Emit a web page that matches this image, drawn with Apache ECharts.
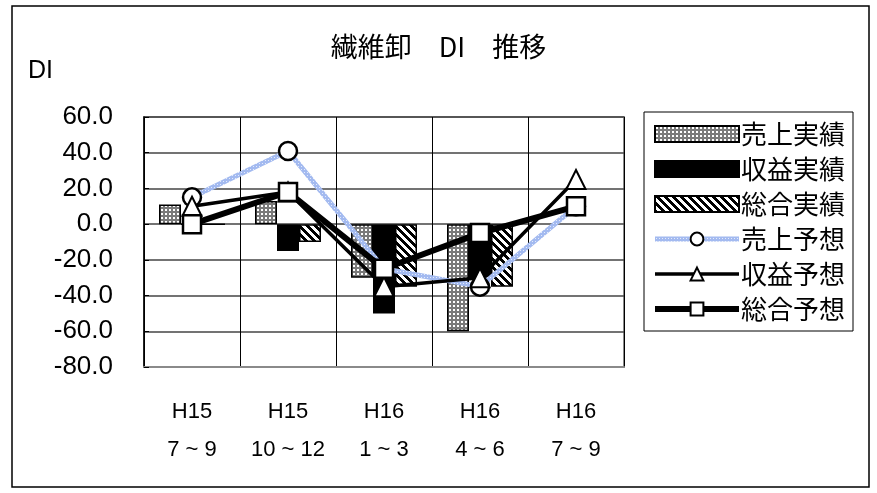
<!DOCTYPE html>
<html>
<head>
<meta charset="utf-8">
<script src="https://cdn.jsdelivr.net/npm/echarts@6/dist/echarts.min.js"></script>
<style>
  html, body { margin: 0; padding: 0; background: #fff; }
  #chart { width: 877px; height: 493px; }
</style>
</head>
<body>
<div id="chart"></div>
<script>
// Quarterly periods (Heisei year, months)
const categories = ['H15\n7 ~ 9', 'H15\n10 ~ 12', 'H16\n1 ~ 3', 'H16\n4 ~ 6', 'H16\n7 ~ 9'];

// Actual DI (bars)
const salesActual   = [11, 13, -30, -60, null];
const profitActual  = [0, -15, -50, -30, null];
const overallActual = [0, -10, -35, -35, null];

// Forecast DI (lines)
const salesForecast   = [15, 41, -25, -35, 10];
const profitForecast  = [10, 18, -35, -30, 25];
const overallForecast = [0, 18, -25, -5, 10];

const yTicks = { min: -80, max: 60, interval: 20 };

// Fill patterns for bars and the forecast line
function makeTile(size, paint) {
  const c = document.createElement('canvas');
  c.width = size; c.height = size;
  paint(c.getContext('2d'), size);
  return c;
}
const dotTile = makeTile(4, (g) => {
  g.fillStyle = '#7a7a7a'; g.fillRect(0, 0, 4, 4);
  g.fillStyle = '#ffffff'; g.fillRect(1, 1, 2, 2);
});
const hatchTile = makeTile(8, (g, s) => {
  g.fillStyle = '#ffffff'; g.fillRect(0, 0, s, s);
  g.fillStyle = '#000000';
  for (let y = 0; y < s; y++) {
    for (let x = 0; x < s; x++) {
      if ((((x - y) % s) + s) % s < 4) g.fillRect(x, y, 1, 1);
    }
  }
});
const blueTile = makeTile(3, (g) => {
  g.fillStyle = '#a3baf0'; g.fillRect(0, 0, 3, 3);
  g.fillStyle = '#e4ebfb'; g.fillRect(1, 1, 1, 1);
});
const dotFill = { image: dotTile, repeat: 'repeat' };
const hatchFill = { image: hatchTile, repeat: 'repeat' };
const blueStroke = { image: blueTile, repeat: 'repeat' };

const latin = '"Liberation Sans", Arial, sans-serif';
const cjk = '"Noto Sans CJK JP", "Noto Sans", sans-serif';

const barBase = { type: 'bar', barWidth: 22, barGap: '0%' };

const chart = echarts.init(document.getElementById('chart'), null, { renderer: 'canvas' });
chart.setOption({
  animation: false,
  backgroundColor: '#fff',
  title: {
    text: '繊維卸\u3000DI\u3000推移',
    left: 'center',
    top: 28,
    textStyle: { fontFamily: cjk, fontSize: 27, fontWeight: 'normal', color: '#000' }
  },
  graphic: [
    {
      type: 'rect',
      shape: { x: 12, y: 6, width: 857, height: 481 },
      style: { fill: 'none', stroke: '#000', lineWidth: 1.5 },
      silent: true
    },
    {
      type: 'text',
      left: 28, top: 59,
      style: { text: 'DI', font: '25px ' + latin, fill: '#000' }
    }
  ],
  legend: {
    orient: 'vertical',
    left: 644,
    top: 112,
    padding: [9, 8, 9, 8],
    itemWidth: 84,
    itemHeight: 16,
    itemGap: 9,
    borderColor: '#000',
    borderWidth: 1,
    textStyle: { fontFamily: cjk, fontSize: 26, color: '#000', lineHeight: 26, padding: [0, 0, 0, -3] },
    data: [
      { name: '売上実績', icon: 'rect' },
      { name: '収益実績', icon: 'rect' },
      { name: '総合実績', icon: 'rect' },
      { name: '売上予想', lineStyle: { width: 5, color: blueStroke } },
      { name: '収益予想', lineStyle: { width: 3.5, color: '#000' } },
      { name: '総合予想', lineStyle: { width: 6, color: '#000' } }
    ]
  },
  grid: {
    left: 144, right: 253, top: 117, bottom: 126,
    show: true, borderColor: '#8a8a8a', borderWidth: 2
  },
  xAxis: {
    type: 'category',
    data: categories,
    axisLine: { onZero: false, lineStyle: { color: '#8a8a8a', width: 2 } },
    axisTick: { show: false },
    splitLine: { show: true, lineStyle: { color: '#000', width: 1 } },
    axisLabel: {
      fontFamily: latin, fontSize: 22, color: '#000',
      lineHeight: 38, margin: 26, interval: 0
    }
  },
  yAxis: {
    type: 'value',
    min: yTicks.min, max: yTicks.max, interval: yTicks.interval,
    axisLine: { show: true, lineStyle: { color: '#000', width: 1.5 } },
    axisTick: { show: true, inside: true, length: 5, lineStyle: { color: '#000' } },
    splitLine: { show: true, lineStyle: { color: '#444', width: 1.5 } },
    axisLabel: {
      fontFamily: latin, fontSize: 26, color: '#000', margin: 31,
      formatter: (v) => v.toFixed(1)
    }
  },
  series: [
    Object.assign({}, barBase, {
      name: '売上実績', data: salesActual,
      itemStyle: { color: dotFill, borderColor: '#000', borderWidth: 1.5 }
    }),
    Object.assign({}, barBase, {
      name: '収益実績', data: profitActual,
      itemStyle: { color: '#000', borderColor: '#000', borderWidth: 1.5 }
    }),
    Object.assign({}, barBase, {
      name: '総合実績', data: overallActual,
      itemStyle: { color: hatchFill, borderColor: '#000', borderWidth: 1.5 }
    }),
    {
      name: '売上予想', type: 'line', data: salesForecast, z: 3,
      symbol: 'circle', symbolSize: 18,
      lineStyle: { color: blueStroke, width: 5 },
      itemStyle: { color: '#fff', borderColor: '#000', borderWidth: 2.5 }
    },
    {
      name: '収益予想', type: 'line', data: profitForecast, z: 4,
      symbol: 'triangle', symbolSize: 19,
      lineStyle: { color: '#000', width: 3.5 },
      itemStyle: { color: '#fff', borderColor: '#000', borderWidth: 2 }
    },
    {
      name: '総合予想', type: 'line', data: overallForecast, z: 5,
      symbol: 'rect', symbolSize: 18,
      lineStyle: { color: '#000', width: 6 },
      itemStyle: { color: '#fff', borderColor: '#000', borderWidth: 2.5 }
    }
  ]
});
</script>
</body>
</html>
